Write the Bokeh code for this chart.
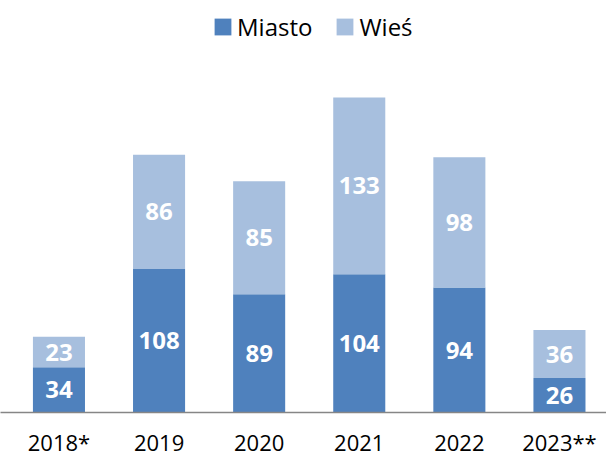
from bokeh.plotting import figure
from bokeh.models import ColumnDataSource, Range1d, Legend, LegendItem, FixedTicker
from bokeh.core.properties import value
from bokeh.embed import file_html
from bokeh.resources import INLINE

years = ["2018*", "2019", "2020", "2021", "2022", "2023**"]
miasto = [34, 108, 89, 104, 94, 26]
wies = [23, 86, 85, 133, 98, 36]

C_M = "#4F81BD"
C_W = "#A7BFDE"
FONT = "Open Sans"

idx = list(range(len(years)))
src = ColumnDataSource(dict(
    x=idx,
    m_top=miasto,
    w_bottom=miasto,
    w_top=[a + b for a, b in zip(miasto, wies)],
    m_mid=[a / 2 for a in miasto],
    w_mid=[a + b / 2 for a, b in zip(miasto, wies)],
    m_lab=[str(v) for v in miasto],
    w_lab=[str(v) for v in wies],
))

p = figure(width=606, height=459, x_range=Range1d(-0.584, 5.470),
           y_range=Range1d(0, 310), output_backend="svg", toolbar_location=None,
           min_border_left=0, min_border_right=0, min_border_top=0, min_border_bottom=0)
p.outline_line_color = None
p.background_fill_color = "white"
p.border_fill_color = "white"
p.xgrid.visible = False
p.ygrid.visible = False
p.yaxis.visible = False

r1 = p.vbar(x="x", bottom=0, top="m_top", width=0.52, source=src, fill_color=C_M, line_color=None)
r2 = p.vbar(x="x", bottom="w_bottom", top="w_top", width=0.52, source=src, fill_color=C_W, line_color=None)

p.text(x="x", y="m_mid", text="m_lab", source=src, text_color="white", text_font=value(FONT),
       text_font_style="bold", text_font_size="24px", text_align="center", text_baseline="middle")
p.text(x="x", y="w_mid", text="w_lab", source=src, text_color="white", text_font=value(FONT),
       text_font_style="bold", text_font_size="24px", text_align="center", text_baseline="middle")

ax = p.xaxis[0]
ax.ticker = FixedTicker(ticks=idx)
ax.major_label_overrides = {i: y for i, y in zip(idx, years)}
ax.axis_line_color = "#868686"
ax.axis_line_width = 1.5
ax.major_tick_line_color = None
ax.minor_tick_line_color = None
ax.major_tick_out = 0
ax.major_tick_in = 0
ax.major_label_standoff = 14
ax.major_label_text_font = FONT
ax.major_label_text_font_size = "22px"
ax.major_label_text_color = "black"

legend = Legend(items=[LegendItem(label="Miasto", renderers=[r1]), LegendItem(label="Wieś", renderers=[r2])],
                location=(212, 369), orientation="horizontal")
legend.border_line_color = None
legend.background_fill_alpha = 0
legend.margin = 0
legend.padding = 0
legend.spacing = 22
legend.glyph_width = 21
legend.glyph_height = 21
legend.label_standoff = 4
legend.label_text_font = FONT
legend.label_text_font_size = "24px"
legend.label_text_color = "black"
p.add_layout(legend)

open("out.html", "w").write(file_html(p, INLINE))
